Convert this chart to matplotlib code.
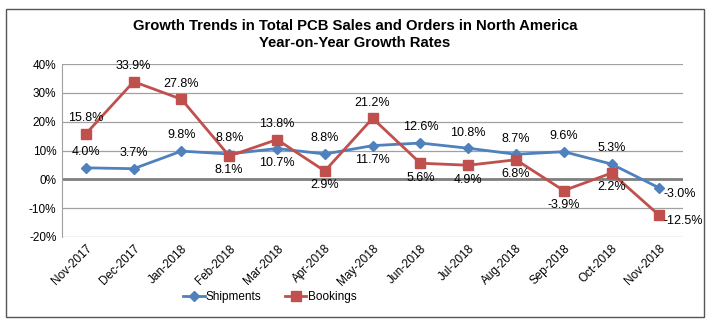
import numpy as np
import matplotlib.pyplot as plt
from matplotlib.patches import Rectangle

plt.rcParams['font.family'] = ['Liberation Sans', 'DejaVu Sans']

months = ['Nov-2017', 'Dec-2017', 'Jan-2018', 'Feb-2018', 'Mar-2018', 'Apr-2018',
          'May-2018', 'Jun-2018', 'Jul-2018', 'Aug-2018', 'Sep-2018', 'Oct-2018', 'Nov-2018']
shipments = [4.0, 3.7, 9.8, 8.8, 10.7, 8.8, 11.7, 12.6, 10.8, 8.7, 9.6, 5.3, -3.0]
bookings = [15.8, 33.9, 27.8, 8.1, 13.8, 2.9, 21.2, 5.6, 4.9, 6.8, -3.9, 2.2, -12.5]
# label position for each point: 'a' above, 'b' below, 'r' right
ship_pos = ['a', 'a', 'a', 'a', 'b', 'a', 'b', 'a', 'a', 'a', 'a', 'a', 'r']
book_pos = ['a', 'a', 'a', 'b', 'a', 'b', 'a', 'b', 'b', 'b', 'b', 'b', 'r']

blue = '#4F81BD'
red = '#C0504D'

fig = plt.figure(figsize=(7.1, 3.22), dpi=100)
fig.patches.append(Rectangle((0.008, 0.016), 0.984, 0.955, transform=fig.transFigure,
                             fill=False, edgecolor='#555555', linewidth=1.0))
ax = fig.add_axes([0.0873, 0.264, 0.875, 0.537])

x = np.arange(len(months))
ax.plot(x, shipments, color=blue, marker='D', markersize=5, linewidth=2, label='Shipments', zorder=3)
ax.plot(x, bookings, color=red, marker='s', markersize=7, linewidth=2, label='Bookings', zorder=3)

def put_labels(vals, pos):
    for i, (v, p) in enumerate(zip(vals, pos)):
        txt = f'{v:.1f}%'
        if p == 'a':
            ax.annotate(txt, (i, v), xytext=(0, 7), textcoords='offset points',
                        ha='center', va='bottom', fontsize=9)
        elif p == 'b':
            ax.annotate(txt, (i, v), xytext=(0, -6), textcoords='offset points',
                        ha='center', va='top', fontsize=9)
        else:
            ax.annotate(txt, (i, v), xytext=(3, -4), textcoords='offset points',
                        ha='left', va='center', fontsize=9)

put_labels(shipments, ship_pos)
put_labels(bookings, book_pos)

ax.set_xlim(-0.5, len(months) - 0.5)
ax.set_ylim(-20, 40)
ax.set_yticks(range(-20, 41, 10))
ax.set_yticklabels([f'{t}%' for t in range(-20, 41, 10)], fontsize=8.5)
ax.set_xticks(x)
ax.set_xticklabels(months, rotation=45, ha='right', rotation_mode='anchor', fontsize=8.5)
ax.tick_params(length=0, pad=4)

ax.grid(axis='y', color='#A0A0A0', linewidth=0.9)
ax.axhline(0, color='#808080', linewidth=2, zorder=1)
for s in ['top', 'right', 'bottom']:
    ax.spines[s].set_visible(False)
ax.spines['left'].set_color('#A0A0A0')
ax.set_axisbelow(True)

fig.text(0.5, 0.893, 'Growth Trends in Total PCB Sales and Orders in North America\nYear-on-Year Growth Rates',
         ha='center', va='center', fontsize=10.7, fontweight='bold', linespacing=1.25)

fig.legend(loc='center', bbox_to_anchor=(0.38, 0.078), ncol=2, frameon=False, fontsize=8.5,
           handlelength=1.8, columnspacing=2.0, handletextpad=0.1)

fig.savefig('out.png', dpi=100)
